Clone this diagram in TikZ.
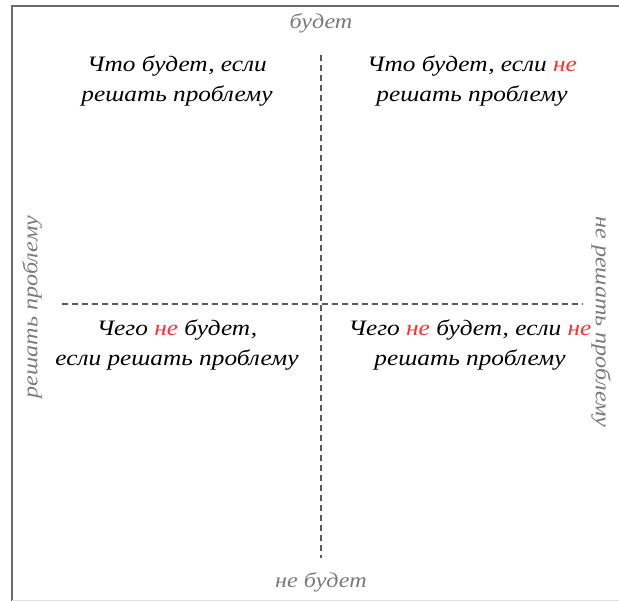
\documentclass[tikz,border=0pt]{standalone}
\usepackage{fontspec}
\setmainfont{Liberation Serif}
\newfontfamily\handfont[FakeStretch=1.15]{Liberation Serif}
\usepackage{xcolor}
\definecolor{framegray}{HTML}{6A6A6A}
\definecolor{dashgray}{HTML}{5A5A5A}
\definecolor{axisgray}{HTML}{7A7A7A}
\definecolor{nered}{HTML}{FF3030}
\newcommand{\redne}{\textcolor{nered}{не}}

\begin{document}
\begin{tikzpicture}[x=1pt, y=-1pt,
    quad/.style={align=center, font=\handfont\itshape\fontsize{22}{30}\selectfont},
    axislabel/.style={text=axisgray, font=\handfont\itshape\fontsize{21}{24}\selectfont},
    axisline/.style={dashgray, line width=1.4pt, dash pattern=on 6pt off 4pt}]
        \useasboundingbox (0,0) rectangle (619,601);
        % frame of the screenshot
        \draw[framegray, line width=2pt] (619,6) -- (12,6) -- (12,601);
        \draw[black!12, line width=1pt] (12,600) -- (619,600);

        \coordinate (up) at (321,55);
        \coordinate (down) at (321,558);
        \coordinate (left) at (62,304);
        \coordinate (right) at (583,304);
        \draw[axisline] (up) -- (down);
        \draw[axisline] (left) -- (right);

        \node[axislabel] (will) at (321,23) {будет};
        \node[axislabel] (wont) at (321,582) {не будет};
        \node[axislabel, rotate=90] (solve) at (32,307) {решать проблему};
        \node[axislabel, rotate=-90] (nosolve) at (601,322) {не решать проблему};

        \node[quad] (tl) at (177,81) {Что будет, если\\решать проблему};
        \node[quad] (tr) at (472,81) {Что будет, если \redne\\решать проблему};
        \node[quad] (bl) at (177,345.5) {Чего \redne{} будет,\\если решать проблему};
        \node[quad] (br) at (470,345.5) {Чего \redne{} будет, если \redne\\решать проблему};
    \end{tikzpicture}
\end{document}
